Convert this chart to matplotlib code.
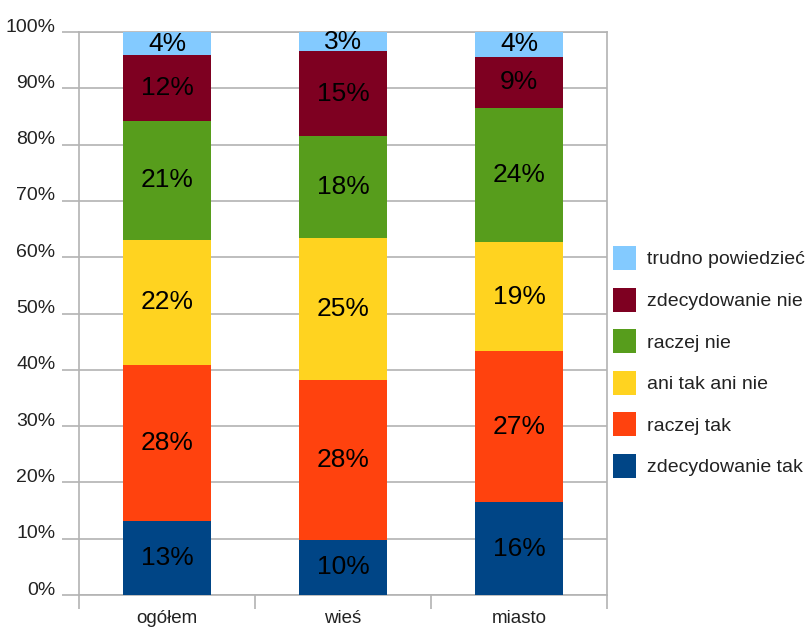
import numpy as np
import matplotlib
matplotlib.use("Agg")
import matplotlib.pyplot as plt
from matplotlib.transforms import ScaledTranslation

plt.rcParams["font.family"] = ["Liberation Sans", "DejaVu Sans"]


''' Data '''
groups = ["ogółem", "wieś", "miasto"]
series = ["zdecydowanie tak", "raczej tak", "ani tak ani nie",
          "raczej nie", "zdecydowanie nie", "trudno powiedzieć"]

# segment heights (percent)
zdecydowanie_tak = [13.1, 9.8, 16.5]
raczej_tak = [27.8, 28.4, 26.8]
ani_tak_ani_nie = [22.2, 25.2, 19.4]
raczej_nie = [21.1, 18.1, 23.8]
zdecydowanie_nie = [11.7, 15.1, 9.1]
trudno_powiedziec = [4.1, 3.4, 4.4]

# printed labels
labels_ogolem = ["13%", "28%", "22%", "21%", "12%", "4%"]
labels_wies = ["10%", "28%", "25%", "18%", "15%", "3%"]
labels_miasto = ["16%", "27%", "19%", "24%", "9%", "4%"]

colors = ["#004586", "#ff420e", "#ffd320", "#579d1c", "#7e0021", "#83caff"]


''' Plot '''
fig = plt.figure(figsize=(8.07, 6.33), dpi=100)
ax = fig.add_axes([79 / 807, 38 / 633, 528 / 807, 563 / 633])

values = [zdecydowanie_tak, raczej_tak, ani_tak_ani_nie,
          raczej_nie, zdecydowanie_nie, trudno_powiedziec]
bar_labels = list(zip(labels_ogolem, labels_wies, labels_miasto))

x = np.arange(len(groups)) + 0.5
bottom = np.zeros(len(groups))
handles = []
for vals, name, col, labs in zip(values, series, colors, bar_labels):
    bars = ax.bar(x, vals, 0.505, bottom=bottom, color=col, label=name, zorder=2)
    handles.append(bars)
    ax.bar_label(bars, labels=labs, label_type="center", fontsize=19, color="black")
    bottom += np.array(vals)

ax.set_xlim(0, 3)
ax.set_ylim(0, 100)

# y axis
ax.set_yticks(np.arange(0, 101, 10))
ax.set_yticklabels([f"{v}%" for v in range(0, 101, 10)])
ax.yaxis.grid(True, color="#b3b3b3", lw=1.2, zorder=0)
ax.tick_params(axis="y", length=12, color="#b3b3b3", width=1.2, labelsize=14,
               pad=5, labelcolor="#222222")
for lab in ax.get_yticklabels():
    lab.set_transform(lab.get_transform() + ScaledTranslation(0, 5 / 72, fig.dpi_scale_trans))

# x axis: boundary ticks + centred category labels
ax.set_xticks([0, 1, 2, 3])
ax.set_xticklabels([])
ax.set_xticks(x, minor=True)
ax.set_xticklabels(groups, minor=True)
ax.tick_params(axis="x", which="major", length=10, color="#b3b3b3", width=1.2)
ax.tick_params(axis="x", which="minor", length=0, labelsize=13.5, pad=11,
               labelcolor="#222222")

for s in ["top", "bottom"]:
    ax.spines[s].set_visible(False)
for s in ["left", "right"]:
    ax.spines[s].set_color("#b3b3b3")
    ax.spines[s].set_linewidth(1.2)

ax.axhline(0, color="#b3b3b3", lw=1.2, clip_on=False, zorder=1)
ax.axhline(100, color="#b3b3b3", lw=1.2, clip_on=False, zorder=1)

leg = fig.legend(handles[::-1], series[::-1], loc="upper left",
                 bbox_to_anchor=(613 / 807, 1 - 246 / 633), frameon=False,
                 fontsize=14, handlelength=1.18, handleheight=1.52,
                 handletextpad=0.57, labelspacing=0.905, borderpad=0, borderaxespad=0)
for t in leg.get_texts():
    t.set_color("#222222")

plt.savefig("out.png", dpi=100)
